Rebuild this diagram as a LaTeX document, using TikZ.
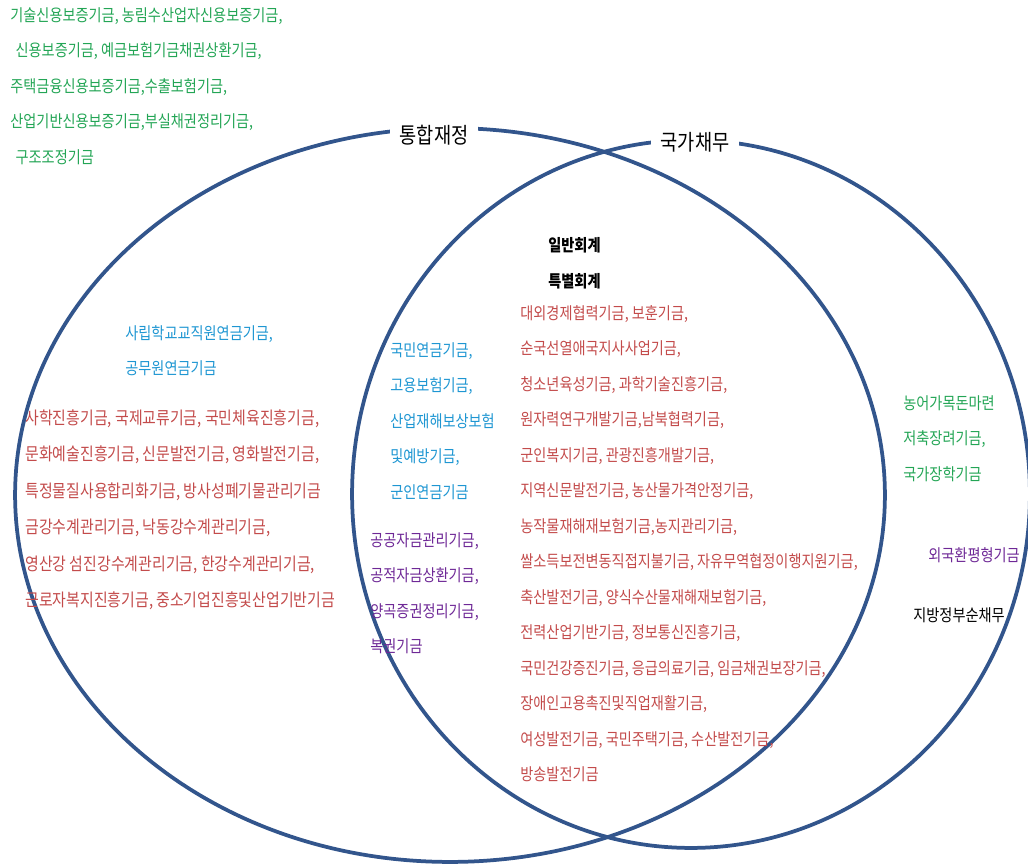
\documentclass[tikz,border=0pt]{standalone}
\usepackage{fontspec}
\setmainfont{Noto Sans CJK KR}[FakeStretch=0.85]
\definecolor{ringblue}{RGB}{50,85,140}
\definecolor{fundgreen}{RGB}{35,165,85}
\definecolor{fundcyan}{RGB}{30,150,210}
\definecolor{fundred}{RGB}{195,75,75}
\definecolor{fundpurple}{RGB}{110,40,150}
\tikzset{
  ring/.style={draw=ringblue, line width=0.075cm},
  setlabel/.style={fill=white, inner xsep=0.2cm, inner ysep=0.05cm, font=\fontsize{12.5}{14}\selectfont},
  fundlist/.style={anchor=north west, inner sep=0pt, align=left, font=\fontsize{9.5}{20.2}\selectfont}
}
\begin{document}
\begin{tikzpicture}[x=0.02cm, y=-0.02cm]
                \useasboundingbox (0,0) rectangle (1028,863);
                
                % Drawing ellipse of the integrated budget
                \draw [ring] (450,495) ellipse [x radius=8.7cm, y radius=7.34cm];%
                
                % Drawing ellipse of the national debt
                \draw [ring] (691,494) ellipse [x radius=6.78cm, y radius=7.08cm];%
                
                % Marking set labels
                \node (budget) [setlabel] at (434,135) {통합재정};%
                \node (debt) [setlabel] at (695,142) {국가채무};%
                
                % Marking funds outside both sets
                \node (guarantee) [fundlist, text=fundgreen] at (10,7) {기술신용보증기금, 농림수산업자신용보증기금,\\
                \hspace{3pt}신용보증기금, 예금보험기금채권상환기금,\\
                주택금융신용보증기금,수출보험기금,\\
                산업기반신용보증기금,부실채권정리기금,\\
                \hspace{3pt}구조조정기금};%
                
                % Marking pension funds in budget only
                \node (pension) [fundlist, text=fundcyan] at (125,325) {사립학교교직원연금기금,\\
                공무원연금기금};%
                
                % Marking other funds in budget only
                \node (culture) [fundlist, text=fundred, font=\fontsize{10}{20.8}\selectfont] at (25,409) {사학진흥기금, 국제교류기금, 국민체육진흥기금,\\
                문화예술진흥기금, 신문발전기금, 영화발전기금,\\
                특정물질사용합리화기금, 방사성폐기물관리기금\\
                금강수계관리기금, 낙동강수계관리기금,\\
                영산강 섬진강수계관리기금, 한강수계관리기금,\\
                근로자복지진흥기금, 중소기업진흥및산업기반기금};%
                
                % Marking social insurance funds
                \node (insurance) [fundlist, text=fundcyan] at (390,342) {국민연금기금,\\
                고용보험기금,\\
                산업재해보상보험\\
                및예방기금,\\
                군인연금기금};%
                
                % Marking public capital funds
                \node (capital) [fundlist, text=fundpurple] at (370,532) {공공자금관리기금,\\
                공적자금상환기금,\\
                양곡증권정리기금,\\
                복권기금};%
                
                % Marking accounts
                \node (accounts) [fundlist, font=\bfseries\fontsize{9.5}{20.8}\selectfont] at (548,237) {일반회계\\
                특별회계};%
                
                % Marking funds in both sets
                \node (shared) [fundlist, text=fundred] at (520,305) {대외경제협력기금, 보훈기금,\\
                순국선열애국지사사업기금,\\
                청소년육성기금, 과학기술진흥기금,\\
                원자력연구개발기금,남북협력기금,\\
                군인복지기금, 관광진흥개발기금,\\
                지역신문발전기금, 농산물가격안정기금,\\
                농작물재해재보험기금,농지관리기금,\\
                쌀소득보전변동직접지불기금, 자유무역협정이행지원기금,\\
                축산발전기금, 양식수산물재해재보험기금,\\
                전력산업기반기금, 정보통신진흥기금,\\
                국민건강증진기금, 응급의료기금, 임금채권보장기금,\\
                장애인고용촉진및직업재활기금,\\
                여성발전기금, 국민주택기금, 수산발전기금,\\
                방송발전기금};%
                
                % Marking funds in debt only
                \node (savings) [fundlist, text=fundgreen] at (903,395) {농어가목돈마련\\
                저축장려기금,\\
                국가장학기금};%
                \node (exchange) [fundlist, text=fundpurple] at (928,547) {외국환평형기금};%
                \node (local) [fundlist] at (913,607) {지방정부순채무};%
\end{tikzpicture}
\end{document}
